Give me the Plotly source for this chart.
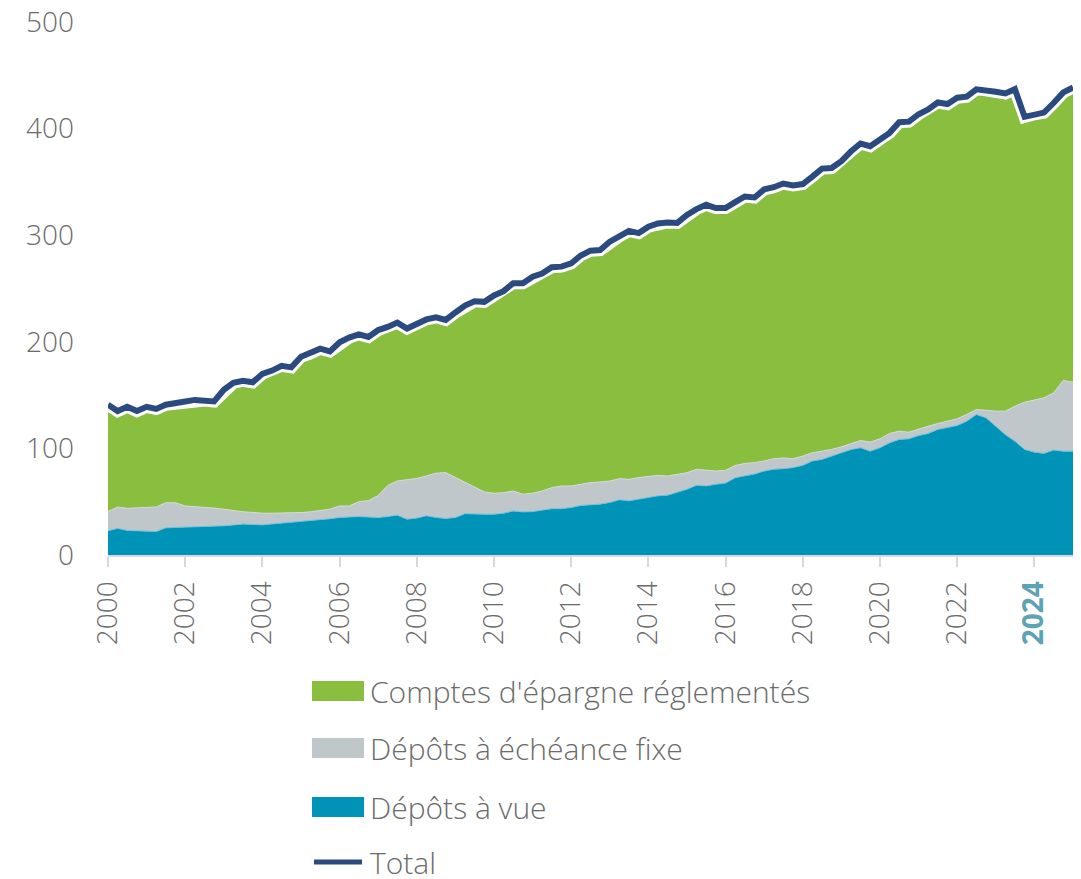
import pandas as pd
import plotly.graph_objects as go

# Quarterly observations, Jan 2000 -> Jan 2025 (EUR bn)
depots_vue = [
    22.7, 25.0, 23.0, 22.7, 22.7, 22.0, 25.5, 25.8,
    25.8, 26.2, 26.5, 27.0, 27.4, 28.2, 29.0, 28.6,
    28.3, 29.1, 29.9, 30.5, 31.2, 32.0, 33.0, 34.0,
    35.2, 35.8, 36.1, 35.6, 35.2, 36.0, 37.4, 33.6,
    34.6, 36.8, 35.2, 34.3, 35.2, 38.8, 38.2, 38.2,
    38.2, 39.2, 41.3, 40.4, 40.7, 41.9, 43.5, 43.5,
    44.5, 46.5, 47.0, 47.7, 49.3, 51.8, 50.8, 52.4,
    54.0, 55.5, 56.1, 58.6, 61.7, 65.4, 64.8, 66.4,
    67.5, 72.5, 74.0, 76.0, 78.8, 80.4, 81.0, 82.0,
    84.1, 88.2, 89.7, 92.8, 95.9, 99.0, 100.6, 97.4,
    100.6, 105.3, 108.4, 109.0, 112.1, 114.0, 117.8, 119.3,
    121.5, 125.5, 131.8, 128.7, 120.8, 113.0, 106.8, 99.0,
    96.5, 95.3, 98.4, 97.4, 97.4,
]
depots_echeance = [
    18.1, 20.0, 20.8, 21.3, 21.9, 23.0, 23.5, 23.2,
    20.2, 19.3, 18.5, 17.0, 15.6, 13.3, 11.5, 11.4,
    10.9, 10.1, 9.3, 9.0, 8.6, 8.5, 8.5, 9.0,
    10.8, 10.2, 13.9, 15.4, 20.6, 29.2, 32.1, 37.4,
    37.2, 37.4, 41.5, 43.0, 37.4, 29.7, 25.0, 21.0,
    19.7, 19.3, 18.7, 16.6, 17.3, 18.1, 19.7, 21.2,
    20.2, 20.0, 20.9, 20.8, 20.1, 19.8, 20.2, 20.2,
    19.5, 19.2, 18.0, 16.8, 15.5, 15.0, 14.6, 12.4,
    11.9, 11.5, 11.9, 10.6, 9.4, 9.9, 10.0, 8.3,
    8.7, 7.7, 7.7, 6.2, 5.6, 5.6, 6.8, 8.5,
    8.4, 8.7, 7.8, 6.2, 6.3, 6.8, 5.5, 6.2,
    6.2, 6.3, 4.6, 7.1, 14.1, 21.9, 32.7, 44.3,
    48.7, 52.1, 53.6, 66.4, 64.6,
]
comptes_epargne = [
    100.2, 90.0, 95.2, 91.0, 94.4, 92.0, 92.0, 93.0,
    98.0, 100.0, 100.0, 100.0, 112.0, 120.0, 123.0, 122.0,
    130.8, 133.8, 138.3, 136.5, 146.2, 148.5, 152.0, 148.0,
    153.5, 158.0, 157.0, 153.5, 155.2, 148.8, 148.5, 141.5,
    145.7, 146.8, 146.3, 143.2, 154.9, 165.5, 174.8, 178.3,
    185.6, 189.0, 195.0, 198.0, 203.0, 204.0, 206.8, 205.8,
    208.8, 214.5, 217.6, 217.5, 224.6, 227.4, 233.0, 229.4,
    234.5, 236.3, 237.9, 236.1, 241.8, 244.1, 249.1, 246.7,
    246.1, 247.0, 250.4, 248.8, 254.8, 254.7, 257.5, 256.4,
    255.2, 259.1, 265.1, 264.0, 268.0, 273.9, 278.6, 277.6,
    281.0, 282.0, 289.8, 291.3, 295.1, 297.2, 301.2, 297.5,
    301.3, 298.2, 300.4, 300.2, 299.6, 298.1, 297.5, 267.7,
    268.3, 267.6, 272.0, 270.2, 276.5,
]
dates = pd.date_range("2000-01-01", periods=len(depots_vue), freq="QS")
total = [a + b + c for a, b, c in zip(depots_vue, depots_echeance, comptes_epargne)]

tick_years = list(range(2000, 2025, 2))
tick_labels = [str(y) for y in tick_years[:-1]] + [
    "<b><span style='color:#5ea3b3'>2024</span></b>"
]
legend_names = ["Comptes d'épargne réglementés", "Dépôts à échéance fixe",
                "Dépôts à vue", "Total"]

GREEN = "#8abe3f"
GREY = "#c0c7cb"
BLUE = "#0093b8"
NAVY = "#2b4a7f"
TXT = "#6b6b6b"
FONT = "Open Sans"

# page body has an 8px margin: figure origin sits at (8, 8) of the page
OFF = 8
W, H = 1081, 879
ML, MT = 108 - OFF, 22 - OFF
PLOT_R, PLOT_B = 1073 - OFF, 555 - OFF
MR, MB = W - PLOT_R, H - PLOT_B
PW, PH = PLOT_R - ML, PLOT_B - MT

fig = go.Figure()
fig.add_trace(go.Scatter(
    x=dates, y=depots_vue, name=legend_names[2], stackgroup="s",
    mode="lines", line=dict(color="#6fbfd6", width=1), fillcolor=BLUE,
))
fig.add_trace(go.Scatter(
    x=dates, y=depots_echeance, name=legend_names[1], stackgroup="s",
    mode="lines", line=dict(color="#d3dade", width=1), fillcolor=GREY,
))
fig.add_trace(go.Scatter(
    x=dates, y=comptes_epargne, name=legend_names[0], stackgroup="s",
    mode="lines", line=dict(color=GREEN, width=0), fillcolor=GREEN,
))
fig.add_trace(go.Scatter(
    x=dates, y=total, mode="lines", line=dict(color="white", width=12),
    showlegend=False, hoverinfo="skip",
))
fig.add_trace(go.Scatter(
    x=dates, y=total, name=legend_names[3], mode="lines",
    line=dict(color=NAVY, width=6),
))

# Legend drawn below the chart (paper coordinates from page pixel layout)
def px_x(px):
    return (px - OFF - ML) / PW

def px_y(py):
    return (PLOT_B - (py - OFF)) / PH

legend_rows = [(legend_names[0], GREEN, "box", 691),
               (legend_names[1], GREY, "box", 748),
               (legend_names[2], BLUE, "box", 807),
               (legend_names[3], NAVY, "line", 862)]
for name, col, kind, cy in legend_rows:
    if kind == "box":
        fig.add_shape(type="rect", xref="paper", yref="paper",
                      x0=px_x(312), x1=px_x(364), y0=px_y(cy + 10), y1=px_y(cy - 10),
                      fillcolor=col, line=dict(width=0))
    else:
        fig.add_shape(type="line", xref="paper", yref="paper",
                      x0=px_x(314), x1=px_x(362), y0=px_y(cy), y1=px_y(cy),
                      line=dict(color=col, width=5))
    fig.add_annotation(x=px_x(368), y=px_y(cy), xref="paper", yref="paper",
                       text=name, showarrow=False, xanchor="left", yanchor="middle",
                       font=dict(family=FONT, size=30, color=TXT, weight=300))

fig.update_layout(
    width=W, height=H,
    margin=dict(l=ML, r=MR, t=MT, b=MB, autoexpand=False),
    paper_bgcolor="white", plot_bgcolor="white",
    font=dict(family=FONT, size=28, color=TXT, weight=300),
    showlegend=False,
    xaxis=dict(
        range=[dates[0], dates[-1]], tickmode="array",
        tickvals=[pd.Timestamp(f"{y}-01-01") for y in tick_years],
        ticktext=tick_labels, tickangle=-90, automargin=False,
        showgrid=False, zeroline=False, showline=True, linecolor="#d6dadd", linewidth=2,
        ticks="outside", ticklen=10, tickwidth=2, tickcolor="#d6dadd",
        ticklabelstandoff=3, ticklabeloverflow="allow",
        tickfont=dict(family=FONT, size=28, color=TXT, weight=300),
    ),
    yaxis=dict(
        range=[0, 500], tickvals=[0, 100, 200, 300, 400, 500], automargin=False,
        showgrid=False, zeroline=False, showline=False, ticks="",
        ticklabelstandoff=33, ticklabeloverflow="allow",
        tickfont=dict(family=FONT, size=28, color=TXT, weight=300),
    ),
)

fig.write_html("out.html")
